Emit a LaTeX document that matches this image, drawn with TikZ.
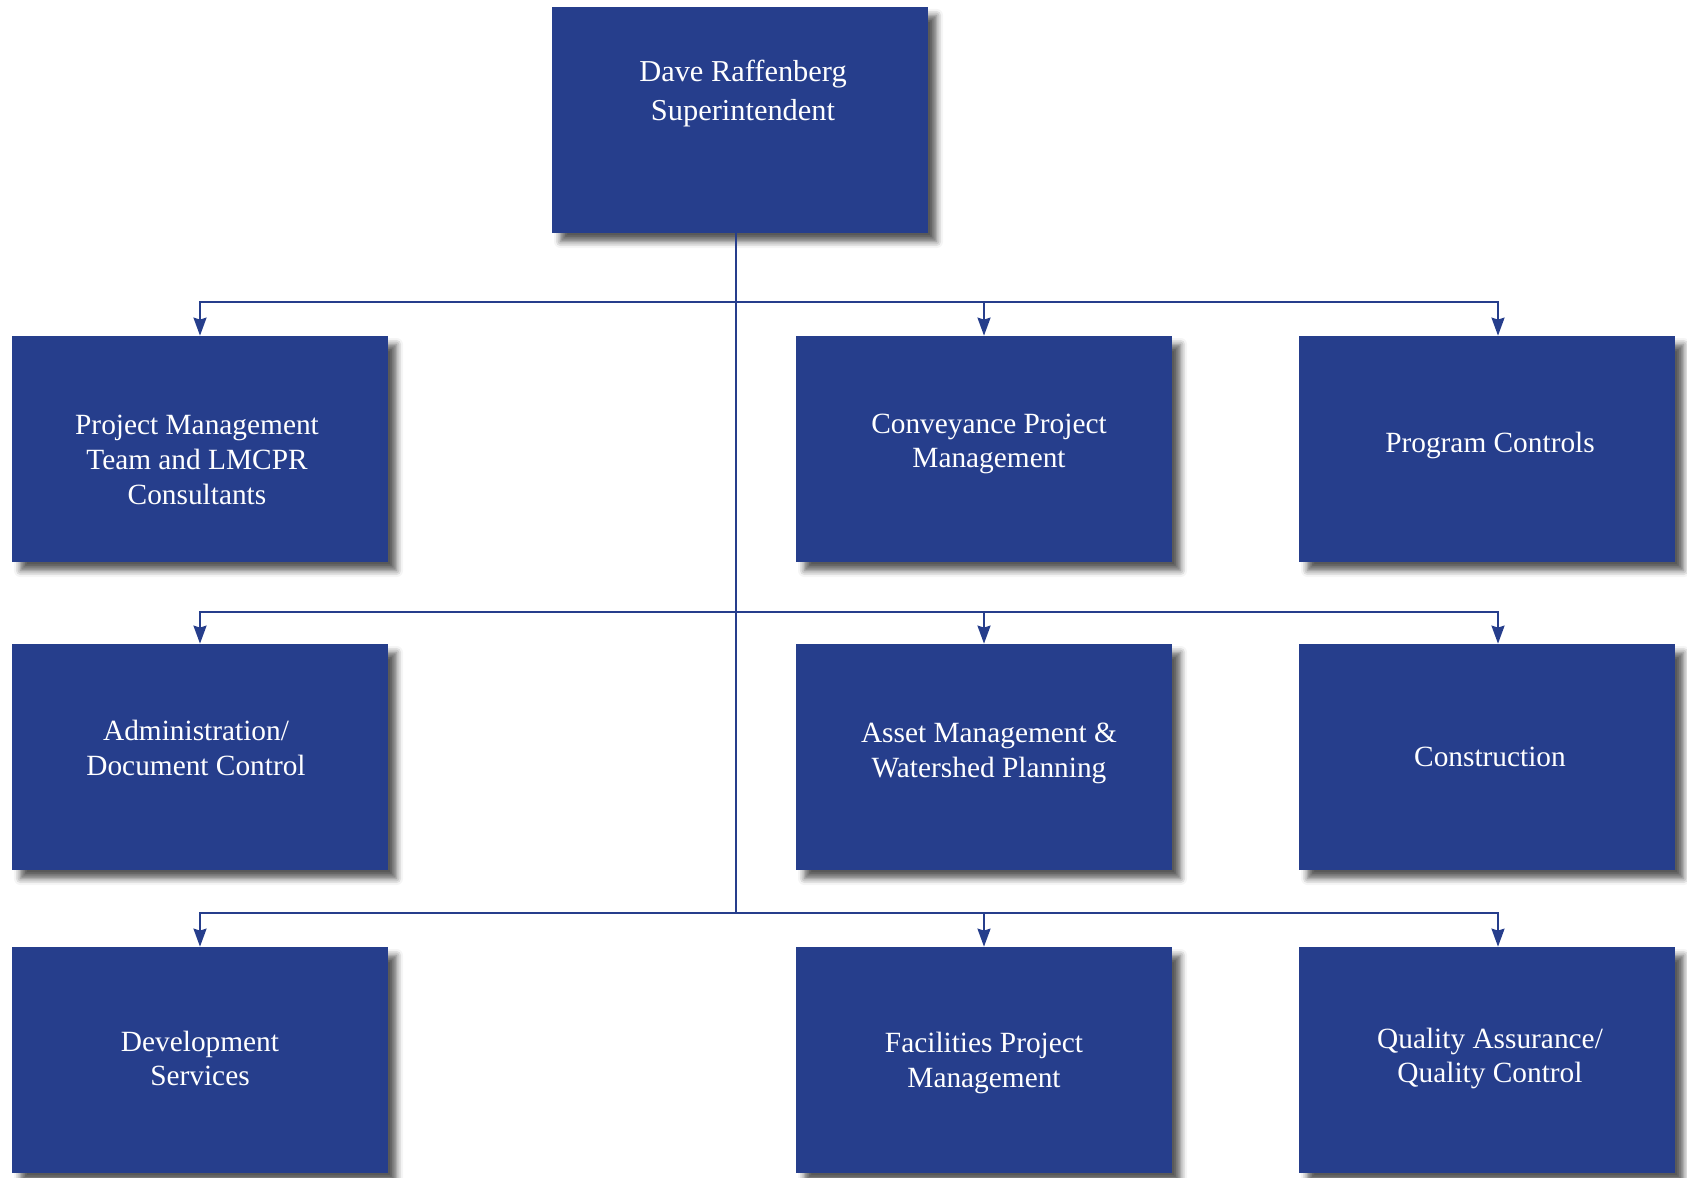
\documentclass[tikz,border=0pt]{standalone}
\usepackage{fontspec}
\setmainfont{Liberation Serif}
\usepackage{tikz}
\usetikzlibrary{arrows.meta,shadows.blur}
\definecolor{orgblue}{RGB}{38,62,140}

\begin{document}
\begin{tikzpicture}[
	box/.style={fill=orgblue, minimum width=7.52cm, minimum height=4.52cm, inner sep=0,
		blur shadow={shadow xshift=0.17cm, shadow yshift=-0.17cm, shadow blur radius=0.13cm, shadow opacity=65}},
	lbl/.style={text=white, align=center, font=\fontsize{16.7}{19.8}\selectfont},
	wire/.style={orgblue, line width=1.2pt},
	conn/.style={wire, -{Stealth[length=0.36cm, width=0.26cm, inset=0.04cm]}}]
	\useasboundingbox (0,0) rectangle (33.74,-23.56);
	% boxes
	\node[box] (super) at (14.8,-2.4) {};
	\node[box] (pmt) at (4.0,-8.98) {};
	\node[box] (cpm) at (19.68,-8.98) {};
	\node[box] (prog) at (29.74,-8.98) {};
	\node[box] (admin) at (4.0,-15.14) {};
	\node[box] (asset) at (19.68,-15.14) {};
	\node[box] (constr) at (29.74,-15.14) {};
	\node[box] (dev) at (4.0,-21.2) {};
	\node[box] (fpm) at (19.68,-21.2) {};
	\node[box] (qaqc) at (29.74,-21.2) {};
	% labels
	\node[lbl, font=\fontsize{17.3}{22}\selectfont] (t-super) at ([xshift=0.06cm,yshift=0.53cm]super.center) {Dave Raffenberg\\Superintendent};
	\node[lbl] (t-pmt) at ([xshift=-0.06cm,yshift=-0.22cm]pmt.center) {Project Management\\Team and LMCPR\\Consultants};
	\node[lbl] (t-cpm) at ([xshift=0.1cm,yshift=0.1cm]cpm.center) {Conveyance Project\\Management};
	\node[lbl] (t-prog) at ([xshift=0.06cm,yshift=0.08cm]prog.center) {Program Controls};
	\node[lbl] (t-admin) at ([xshift=-0.08cm,yshift=0.18cm]admin.center) {Administration/\\Document Control};
	\node[lbl] (t-asset) at ([xshift=0.1cm,yshift=0.07cm]asset.center) {Asset Management \&\\Watershed Planning};
	\node[lbl] (t-constr) at ([xshift=0.06cm]constr.center) {Construction};
	\node[lbl] (t-dev) at ([yshift=0.03cm]dev.center) {Development\\Services};
	\node[lbl] (t-fpm) at ([yshift=-0.06cm]fpm.center) {Facilities Project\\Management};
	\node[lbl] (t-qaqc) at ([xshift=0.06cm,yshift=0.03cm]qaqc.center) {Quality Assurance/\\Quality Control};
	% trunk and branches
	\coordinate (bus1) at (14.72,-6.04);
	\coordinate (bus2) at (14.72,-12.24);
	\coordinate (bus3) at (14.72,-18.26);
	\draw[wire] (super.south -| bus1) -- (bus3);
	\draw[conn] (bus1) -| (pmt.north);
	\draw[conn] (bus1) -| (cpm.north);
	\draw[conn] (bus1) -| ([xshift=0.22cm]prog.north);
	\draw[conn] (bus2) -| (admin.north);
	\draw[conn] (bus2) -| (asset.north);
	\draw[conn] (bus2) -| ([xshift=0.22cm]constr.north);
	\draw[conn] (bus3) -| (dev.north);
	\draw[conn] (bus3) -| (fpm.north);
	\draw[conn] (bus3) -| ([xshift=0.22cm]qaqc.north);
\end{tikzpicture}
\end{document}
